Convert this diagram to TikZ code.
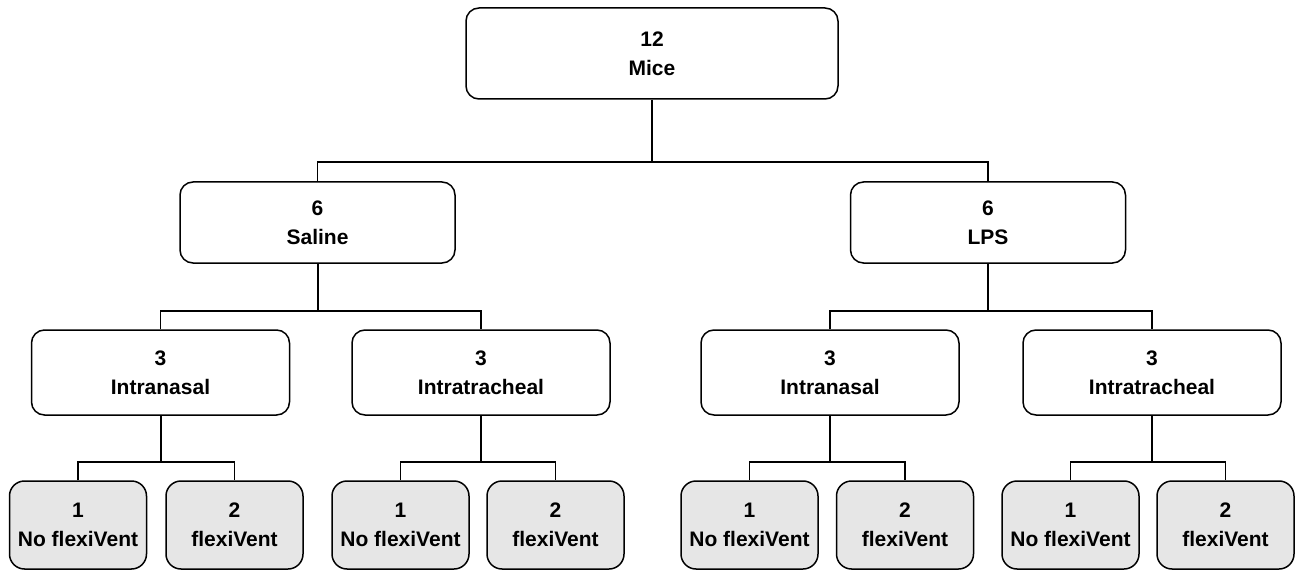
\documentclass[tikz,border=0pt]{standalone}
\usepackage{fontspec}
\setmainfont{Liberation Sans}
\definecolor{leafgray}{HTML}{E6E6E6}
\begin{document}
\begin{tikzpicture}[x=1pt,y=-1pt,
  box/.style={draw, line width=1.5pt, rounded corners=13pt, align=center,
    font=\fontsize{21}{29}\selectfont\bfseries, inner sep=0pt, fill=white},
  topbox/.style={box, minimum width=372pt, minimum height=91pt},
  midbox/.style={box, minimum width=275pt, minimum height=81pt},
  lowbox/.style={box, minimum width=258pt, minimum height=85pt},
  leafbox/.style={box, fill=leafgray, rounded corners=15pt, minimum width=137pt, minimum height=88pt},
  stem/.style={line width=2pt},
  branch/.style={line width=1.5pt}]
\useasboundingbox (0,0) rectangle (1304,572);

\node[topbox] (top) at (652,53.5) {12\\Mice};

\node[midbox] (sal) at (317.5,222.5) {6\\Saline};
\node[midbox] (lps) at (988,222.5) {6\\LPS};

\node[lowbox] (sin) at (160.5,372.5) {3\\Intranasal};
\node[lowbox] (sit) at (481,372.5) {3\\Intratracheal};
\node[lowbox] (lin) at (830,372.5) {3\\Intranasal};
\node[lowbox] (lit) at (1152,372.5) {3\\Intratracheal};

\node[leafbox] (a1) at (78,525) {1\\No flexiVent};
\node[leafbox] (a2) at (234.5,525) {2\\flexiVent};
\node[leafbox] (b1) at (400.5,525) {1\\No flexiVent};
\node[leafbox] (b2) at (555.5,525) {2\\flexiVent};
\node[leafbox] (c1) at (749.5,525) {1\\No flexiVent};
\node[leafbox] (c2) at (905,525) {2\\flexiVent};
\node[leafbox] (d1) at (1070.5,525) {1\\No flexiVent};
\node[leafbox] (d2) at (1225.5,525) {2\\flexiVent};

% level 1 -> 2
\draw[stem] (top.south) -- (top.south |- 0,162);
\draw[branch] (sal.north) |- (lps.north |- 0,162) -- (lps.north);

% level 2 -> 3
\draw[stem] (sal.south) -- (sal.south |- 0,311);
\draw[branch] (sin.north) |- (sit.north |- 0,311) -- (sit.north);
\draw[stem] (lps.south) -- (lps.south |- 0,311);
\draw[branch] (lin.north) |- (lit.north |- 0,311) -- (lit.north);

% level 3 -> 4
\draw[stem] (sin.south) -- (sin.south |- 0,462);
\draw[branch] (a1.north) |- (a2.north |- 0,462) -- (a2.north);
\draw[stem] (sit.south) -- (sit.south |- 0,462);
\draw[branch] (b1.north) |- (b2.north |- 0,462) -- (b2.north);
\draw[stem] (lin.south) -- (lin.south |- 0,462);
\draw[branch] (c1.north) |- (c2.north |- 0,462) -- (c2.north);
\draw[stem] (lit.south) -- (lit.south |- 0,462);
\draw[branch] (d1.north) |- (d2.north |- 0,462) -- (d2.north);
\end{tikzpicture}
\end{document}
